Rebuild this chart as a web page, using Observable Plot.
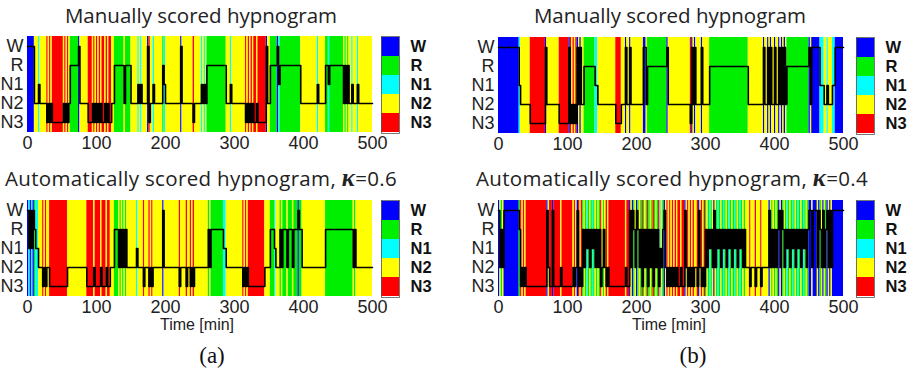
<!DOCTYPE html>
<html><head><meta charset="utf-8">
<script src="https://cdn.jsdelivr.net/npm/d3@7"></script>
<script src="https://cdn.jsdelivr.net/npm/@observablehq/plot@0.6"></script>
<style>
body{margin:0;background:#fff;width:911px;height:371px;position:relative;overflow:hidden;font-family:"Liberation Sans",Arial,sans-serif}
.abs{position:absolute;width:400px}
.c{position:absolute;transform:translate(-50%,-50%);white-space:nowrap}
.title{font-family:"Open Sans",sans-serif;font-size:20.5px;color:#222}
.title2{letter-spacing:0.35px}
.kappa{font-family:"Liberation Serif",serif;font-weight:bold;font-style:italic;font-size:1.2em}
.xlab{font-family:"Liberation Sans",Arial,sans-serif;font-size:16px;color:#222}
.sub{font-family:"Liberation Serif",serif;font-size:23px;color:#111}
svg{overflow:visible;max-width:none !important}
</style></head><body>
<script>
// Stage categories and colours (legend order, top to bottom)
const stages = ["W","R","N1","N2","N3"];
const stageColors = ["#0000ff","#00ee00","#00ffff","#ffff00","#ff0000"];
const xTicks = [0,100,200,300,400,500];
const totalMinutes = 500;
// Hypnograms, one character per 2-minute epoch (W, R, 1=N1, 2=N2, 3=N3),
// ten epochs (20 min) per chunk
const manualA = ["WWWWW22212","2222323233","3333332323","2RRRRRRW22","2222333232",
  "3232332323","322RRRRRRR","2RRRR22222","1212222W32","21222222R1",
  "2222222222","2W22222222","3222221212","RRRRRRRRRR","RRRR222122",
  "2222222232","3232332333","333W22RRRR","RW1RRRRRRR","RRRRRRRR22",
  "2222222222","122222RR1R","RRRRRRRRR2","R2R2212221","2222222222"];
const manualB = ["WWWWWWWWWW","WWWWW12222","2223333333","3333W22222","2222333333",
  "3W32323W2W","22RRRRRRRR","1122222222","2222233332","22W22W2222",
  "22222WW2RR","RRRRRRRRRR","RRW2222222","2222222223","W2W2222W22",
  "222RRRRRRR","RRRRRRRRRR","RRRRRRRRRR","R222222222","22W22W2W22",
  "W22W2W2W2R","RRRRRRRRRR","RRRRRW2WWW","WWW1112212","2211WWWWWW"];
const autoA = ["W1W1WR1122","2323223333","3333333332","2222222222","2223333323",
  "3332333233","222RRR2R2R","2R22222221","2222322232","32222222W2",
  "2222222222","3222232232","3222222222","2R2RRRRRRR","RR11222222",
  "2222223232","3333333333","332222RRR1","222R2RRR2R","RR2RRRWRR2",
  "2222222222","222222RRRR","RRRRRRRRRR","RRRRRR2R22","2222222222"];
const autoB = ["W2R2WWWWWW","WWWWWR3232","3333333333","33333W233W","3333323333",
  "3333232W32","3R2R1R2R1R","2R2R32R232","3333333333","33233W2WR2",
  "WR2R3R2R3R","2R3R2R312R","W232323232","33233W2323","23223W2323",
  "R2R1R2W2R1","R2R1R2R1R2","R1R2R1R2R2","2232223222","322222W2R2",
  "R2RW2WR2R1","R2R1R2R1R2","R1R2RWW2WW","W2WR2W2RW2","W2WWWWWWWW"];
const titles = ["Manually scored hypnogram","Automatically scored hypnogram, "];
const kappas = ["0.6","0.4"];
const xLabel = "Time [min]";
const panelLabels = ["(a)","(b)"];

const code = {W:"W",R:"R","1":"N1","2":"N2","3":"N3"};
function parse(chunks){
  const s = chunks.join("");
  const ep = totalMinutes / s.length;
  const pts = [...s].map((c,i)=>({t:i*ep, stage:code[c]}));
  pts.push({t:totalMinutes, stage:pts[pts.length-1].stage});
  const runs = [];
  for (let i=0;i<s.length;i++){
    const st = pts[i].stage;
    if (runs.length && runs[runs.length-1].stage===st) runs[runs.length-1].end = (i+1)*ep;
    else runs.push({start:i*ep, end:(i+1)*ep, stage:st});
  }
  return {pts, runs};
}
function hypno(chunks){
  const {pts, runs} = parse(chunks);
  return Plot.plot({
    width: 372, height: 96+30, marginLeft: 27, marginRight: 0, marginTop: 0, marginBottom: 30,
    x: {domain:[0,totalMinutes], ticks: xTicks, tickSize: 0, tickPadding: 4, label: null},
    y: {type:"point", domain: stages, padding: 0.5, tickSize: 0, tickPadding: 4, label: null},
    color: {domain: stages, range: stageColors},
    style: {fontSize:"18px", fontFamily:"'Liberation Sans', Arial, sans-serif", color:"#222", background:"transparent", overflow:"visible", maxWidth:"none"},
    marks: [
      Plot.rect(runs, {x1:"start", x2:"end", fill:"stage"}),
      Plot.line(pts, {x:"t", y:"stage", curve:"step-after", stroke:"black", strokeWidth:1.6})
    ]
  });
}
function legend(){
  return Plot.plot({
    width: 70, height: 97, marginLeft: 0, marginRight: 52, marginTop: 0, marginBottom: 0,
    x: {type:"band", domain:["bar"], padding:0, axis:null},
    y: {type:"band", domain: stages, padding:0, axis:"right", tickSize:0, tickPadding:11, label:null},
    color: {domain: stages, range: stageColors},
    style: {fontSize:"16.5px", fontWeight:"bold", fontFamily:"'Liberation Sans', Arial, sans-serif", color:"#111", background:"transparent", overflow:"visible", maxWidth:"none"},
    marks: [
      Plot.cell(stages, {x: () => "bar", y: d => d, fill: d => d}),
      Plot.frame({stroke:"#555", strokeWidth:0.8})
    ]
  });
}
function place(el, left, top){
  const d = document.createElement("div");
  d.className = "abs"; d.style.left = left+"px"; d.style.top = top+"px";
  d.appendChild(el); document.body.appendChild(d);
}
function text(html, cls, cx, cy){
  const d = document.createElement("div");
  d.className = "c " + cls; d.style.left = cx+"px"; d.style.top = cy+"px";
  d.innerHTML = html; document.body.appendChild(d);
}
// panels
place(hypno(manualA), 0, 36);
place(hypno(manualB), 471, 37);
place(hypno(autoA), 0, 200);
place(hypno(autoB), 471, 200);
place(legend(), 381, 36);
place(legend(), 856, 37);
place(legend(), 381, 200);
place(legend(), 856, 200);
// texts
text(titles[0], "title", 201, 15);
text(titles[0], "title", 670, 15);
text(titles[1] + '<span class="kappa">κ</span>=' + kappas[0], "title title2", 201, 178);
text(titles[1] + '<span class="kappa">κ</span>=' + kappas[1], "title title2", 672, 178);
text(xLabel, "xlab", 197, 325);
text(xLabel, "xlab", 669, 325);
text(panelLabels[0], "sub", 212, 356);
text(panelLabels[1], "sub", 693, 356);
</script>
</body></html>
